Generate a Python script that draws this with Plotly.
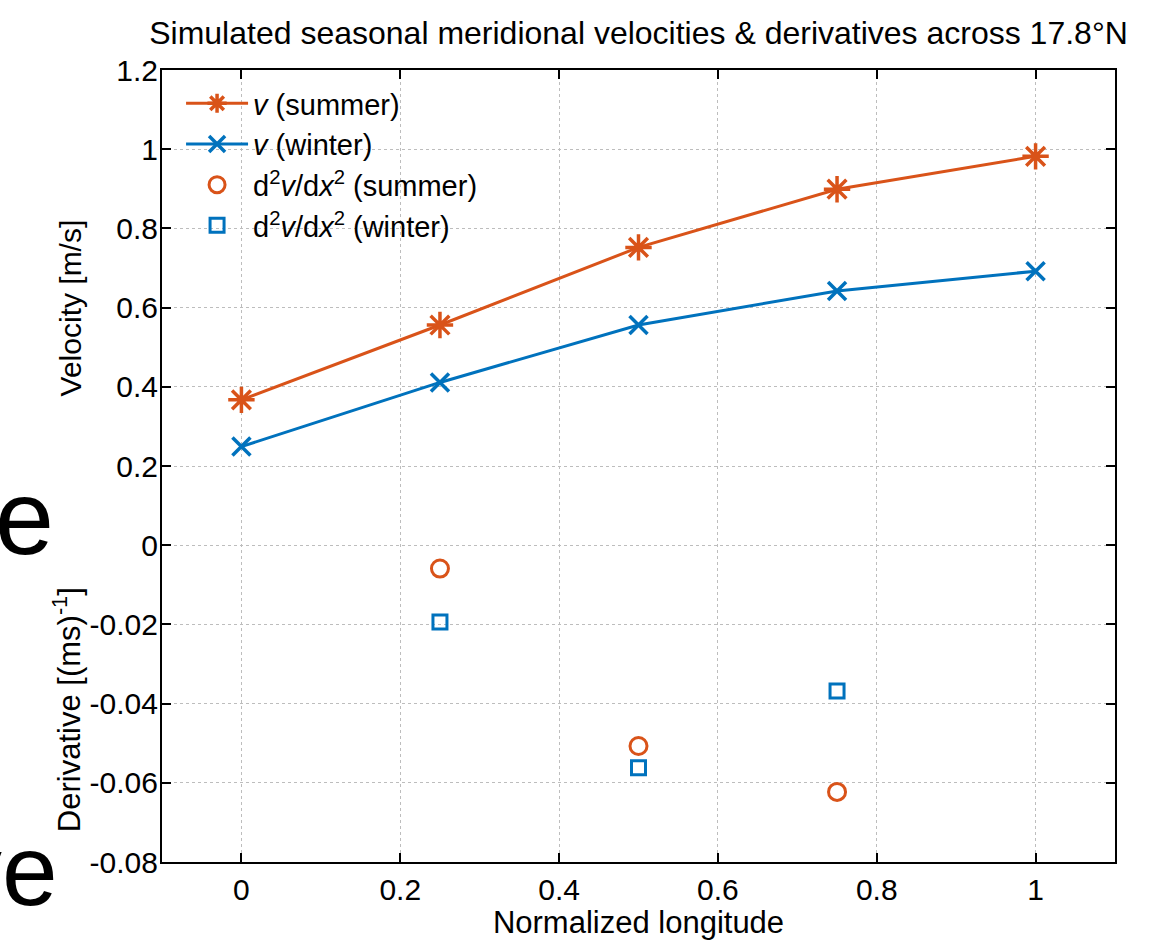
import plotly.graph_objects as go

# ---- data ----
longitude = [0, 0.25, 0.5, 0.75, 1]
v_summer = [0.367, 0.556, 0.752, 0.899, 0.982]
v_winter = [0.249, 0.411, 0.556, 0.642, 0.692]

deriv_x = [0.25, 0.5, 0.75]
d2_summer = [-0.0059, -0.0507, -0.0623]
d2_winter = [-0.0194, -0.0562, -0.0368]

y_tickvals = [-0.8, -0.6, -0.4, -0.2, 0, 0.2, 0.4, 0.6, 0.8, 1.0, 1.2]
y_ticktext = ["-0.08", "-0.06", "-0.04", "-0.02", "0", "0.2", "0.4", "0.6", "0.8", "1", "1.2"]
x_tickvals = [0, 0.2, 0.4, 0.6, 0.8, 1]
x_ticktext = ["0", "0.2", "0.4", "0.6", "0.8", "1"]

ORANGE = "#D95319"
BLUE = "#0072BD"
FONT = "Liberation Sans, Arial, Helvetica, sans-serif"

fig = go.Figure()

fig.add_trace(go.Scatter(
    x=longitude, y=v_summer, mode="lines+markers", name="<i>v</i> (summer)",
    line=dict(color=ORANGE, width=3),
    marker=dict(symbol="asterisk-open", size=22, color=ORANGE, line=dict(color=ORANGE, width=3.5)),
))
fig.add_trace(go.Scatter(
    x=longitude, y=v_winter, mode="lines+markers", name="<i>v</i> (winter)",
    line=dict(color=BLUE, width=3),
    marker=dict(symbol="x-thin-open", size=18, color=BLUE, line=dict(color=BLUE, width=3.5)),
))
fig.add_trace(go.Scatter(
    x=deriv_x, y=d2_summer, mode="markers", yaxis="y2",
    name="d<sup>2</sup><i>v</i>/d<i>x</i><sup>2</sup> (summer)",
    marker=dict(symbol="circle-open", size=17, color=ORANGE, line=dict(color=ORANGE, width=3)),
))
fig.add_trace(go.Scatter(
    x=deriv_x, y=d2_winter, mode="markers", yaxis="y2",
    name="d<sup>2</sup><i>v</i>/d<i>x</i><sup>2</sup> (winter)",
    marker=dict(symbol="square-open", size=14, color=BLUE, line=dict(color=BLUE, width=3)),
))

axis_common = dict(
    showline=True, linecolor="black", linewidth=2,
    mirror="ticks", ticks="inside", ticklen=9, tickwidth=2, tickcolor="black",
    showgrid=True, gridcolor="#bdbdbd", griddash="dot", gridwidth=1,
    zeroline=False, tickfont=dict(family=FONT, size=30, color="black"),
)

fig.update_layout(
    width=1172, height=940,
    paper_bgcolor="white", plot_bgcolor="white",
    margin=dict(l=162, r=57, t=70, b=78),
    font=dict(family=FONT, color="black"),
    title=dict(
        text="Simulated seasonal meridional velocities & derivatives across 17.8°N",
        x=0.5, xref="paper", xanchor="center",
        y=1 - 33 / 940, yref="container", yanchor="middle",
        font=dict(family=FONT, size=32, color="black"),
    ),
    xaxis=dict(
        range=[-0.1, 1.1], tickvals=x_tickvals, ticktext=x_ticktext,
        title=dict(text="Normalized longitude", font=dict(family=FONT, size=31), standoff=0),
        **axis_common,
    ),
    yaxis=dict(
        range=[-0.8, 1.2], tickvals=y_tickvals, ticktext=y_ticktext,
        ticklabelstandoff=-4,
        **axis_common,
    ),
    yaxis2=dict(
        range=[-0.08, 0.12], overlaying="y", visible=False, showgrid=False, zeroline=False,
    ),
    legend=dict(
        x=0.02, y=0.99, xanchor="left", yanchor="top",
        bgcolor="rgba(0,0,0,0)", borderwidth=0,
        font=dict(family=FONT, size=29, color="black"),
        itemwidth=62, tracegroupgap=0,
    ),
    showlegend=True,
    annotations=[
        dict(text="Velocity [m/s]", textangle=-90, xref="paper", yref="paper",
             x=-0.0965, y=0.699, xanchor="center", yanchor="middle", showarrow=False,
             font=dict(family=FONT, size=30, color="black")),
        dict(text="Derivative [(ms)<sup>-1</sup>]", textangle=-90, xref="paper", yref="paper",
             x=-0.0997, y=0.193, xanchor="center", yanchor="middle", showarrow=False,
             font=dict(family=FONT, size=31, color="black")),
        dict(text="e", xref="paper", yref="paper",
             x=-0.1112, y=0.4356, xanchor="right", yanchor="middle", showarrow=False,
             font=dict(family=FONT, size=106, color="black")),
        dict(text="ve", xref="paper", yref="paper",
             x=-0.1075, y=-0.0105, xanchor="right", yanchor="middle", showarrow=False,
             font=dict(family=FONT, size=100, color="black")),
    ],
)

fig.write_html(
    "out.html",
    config={"displayModeBar": False},
    post_script="document.body.style.margin='0px';",
)
